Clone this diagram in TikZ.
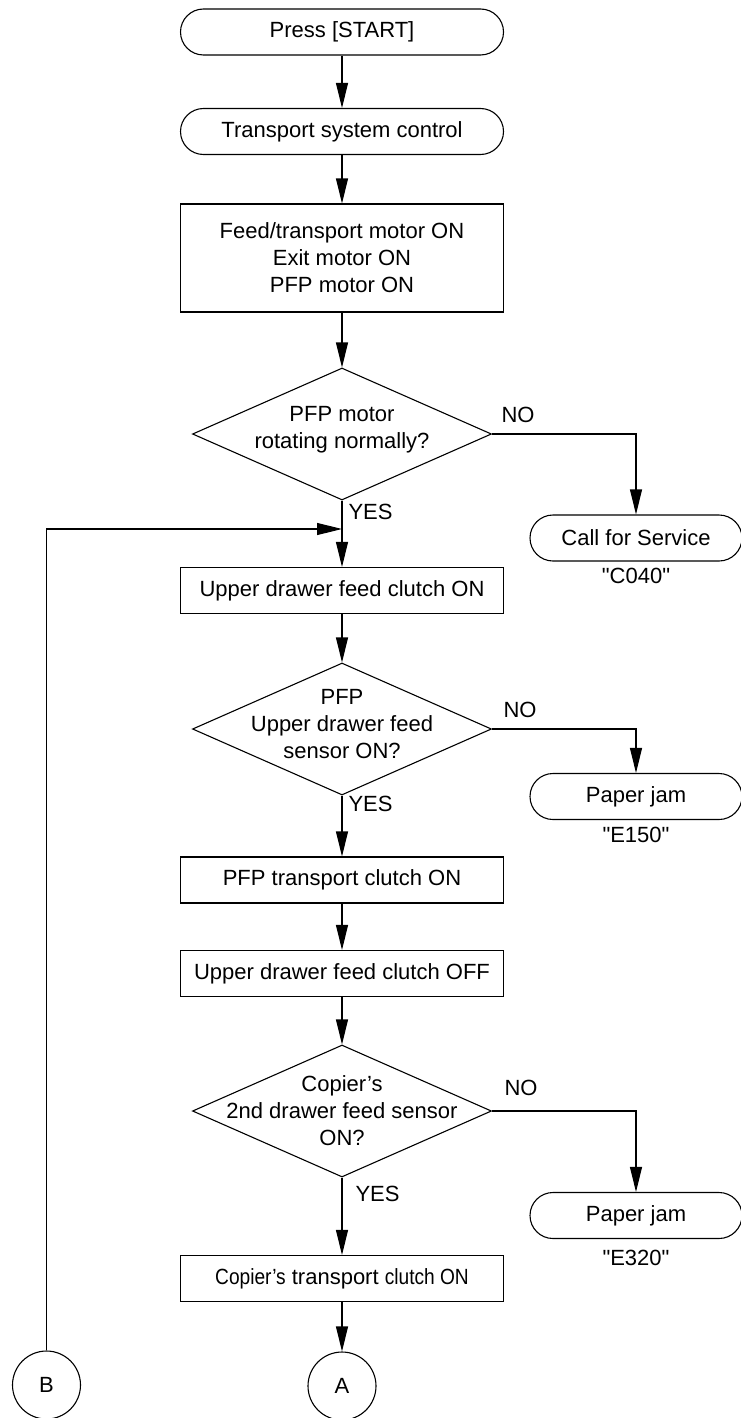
\documentclass[tikz,border=0pt]{standalone}
\usepackage{fontspec}
\setmainfont{Liberation Sans}
\newfontfamily\codefont{Liberation Sans}
\usepackage{graphicx}
\usetikzlibrary{arrows.meta,shapes.geometric}

\begin{document}
\begin{tikzpicture}
  [x=1pt,y=-1pt,line width=1.1pt,
   every node/.style={font=\fontsize{22}{27}\selectfont,inner sep=0pt},
   terminal/.style={draw,rounded corners=23pt,minimum width=323,minimum height=46},
   process/.style={draw,rectangle,minimum width=323,minimum height=46,align=center},
   decision/.style={draw,diamond,minimum width=299,minimum height=132},
   connector/.style={draw,circle,minimum size=68},
   code/.style={font=\fontsize{22}{27}\codefont},
   flow/.style={-{Triangle[length=25pt,width=12pt]}}]
  \fill[white] (0,0) rectangle (740,1418);
  \useasboundingbox (0,0) rectangle (740,1418);

  \node (start)[terminal] at (342,32) {Press [START]};
  \node (tsc)[terminal] at (342,131.5) {Transport system control};
  \node (motors)[process,minimum height=108] at (342,258) {Feed/transport motor ON\\Exit motor ON\\PFP motor ON};
  \node (d1)[decision,label={[align=center,yshift=4pt]center:PFP motor\\rotating normally?}] at (342,434) {};
  \node (cfs)[terminal,minimum width=212] at (636,538) {Call for Service};
  \node (c040)[code] at (636,576) {"C040"};
  \node (yes1)[anchor=west] at (348,512) {YES};
  \node (no1) at (518,415) {NO};

  \node (uclon)[process] at (342,590.5) {Upper drawer feed clutch ON};
  \node (d2)[decision,label={[align=center,yshift=4.5pt]center:PFP\\Upper drawer feed\\sensor ON?}] at (342,729) {};
  \node (jam1)[terminal,minimum width=212] at (636,796.5) {Paper jam};
  \node (e150)[code] at (636,835) {"E150"};
  \node (yes2)[anchor=west] at (348,804) {YES};
  \node (no2) at (520,710) {NO};

  \node (pfptc)[process] at (342,880) {PFP transport clutch ON};
  \node (ucloff)[process] at (342,973.5) {Upper drawer feed clutch OFF};
  \node (d3)[decision,label={[align=center,yshift=0pt]center:Copier's\\2nd drawer feed sensor\\ON?}] at (342,1111) {};
  \node (jam2)[terminal,minimum width=212] at (636,1215.5) {Paper jam};
  \node (e320)[code] at (636,1258) {"E320"};
  \node (yes3)[anchor=west] at (355,1194) {YES};
  \node (no3) at (521,1088) {NO};

  \node (coptc)[process] at (342,1278.5) {\scalebox{0.87}[1]{Copier's} transport \scalebox{0.87}[1]{clutch ON}};
  \node (nA)[connector] at (342,1386) {A};
  \node (nB)[connector] at (46.5,1385) {B};
  \coordinate (join) at (342,529);

  \foreach \from/\to in {start/tsc,tsc/motors,motors/d1,d1/uclon,uclon/d2,d2/pfptc,pfptc/ucloff,ucloff/d3,d3/coptc,coptc/nA}
    \draw[flow] (\from) -- (\to);
  \foreach \from/\to in {d1/cfs,d2/jam1,d3/jam2}
    \draw[flow] (\from.east) -| (\to.north);
  \draw[flow] (nB.north) |- (join);
\end{tikzpicture}
\end{document}
